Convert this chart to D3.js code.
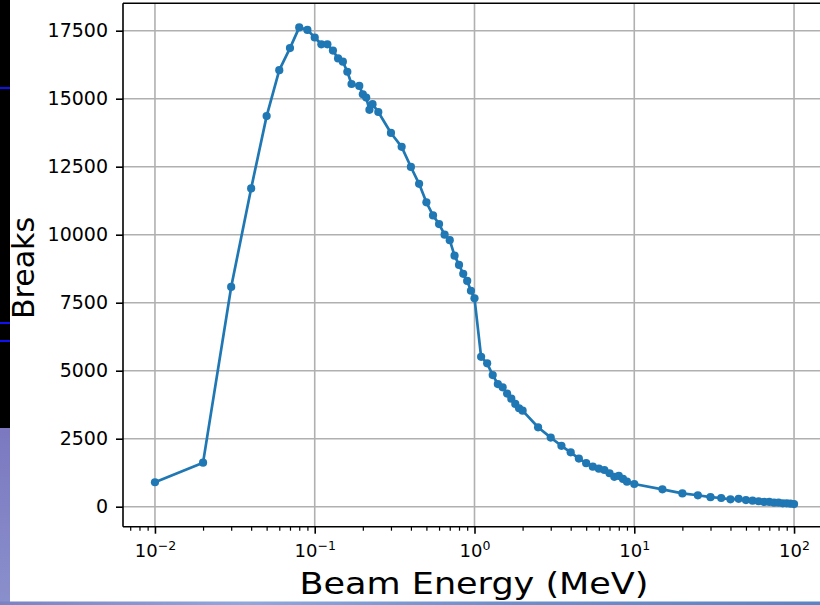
<!DOCTYPE html>
<html>
<head>
<meta charset="utf-8">
<script src="https://cdn.jsdelivr.net/npm/d3@7"></script>
<style>
  html, body { margin: 0; padding: 0; background: #fff; }
  svg { display: block; font-family: "DejaVu Sans", sans-serif; }
</style>
</head>
<body>
<svg id="graph" width="820" height="605"></svg>
<script>
// beam energy (MeV) and number of breaks
const energy = [0.01, 0.02, 0.03, 0.04, 0.05, 0.06, 0.07, 0.08, 0.09, 0.1,
  0.11, 0.12, 0.13, 0.14, 0.15, 0.16, 0.17, 0.19, 0.2, 0.21, 0.22, 0.23, 0.25,
  0.3, 0.35, 0.4, 0.45, 0.5, 0.55, 0.6, 0.65, 0.7, 0.75, 0.8, 0.85, 0.9, 0.95, 1.0,
  1.1, 1.2, 1.3, 1.4, 1.5, 1.6, 1.7, 1.8, 1.9, 2.0, 2.5, 3, 3.5, 4, 4.5, 5, 5.5,
  6, 6.5, 7, 7.5, 8, 8.5, 9, 10, 15, 20, 25, 30, 35, 40, 45, 50, 55, 60, 65,
  70, 75, 80, 85, 90, 95, 100];
const breaks = [900, 1620, 8080, 11700, 14360, 16050, 16860, 17620, 17530, 17250,
  17000, 17000, 16770, 16480, 16360, 15990, 15540, 15470, 15160, 15040, 14590, 14800, 14510,
  13740, 13230, 12490, 11870, 11190, 10710, 10390, 10000, 9800, 9230, 8890, 8560, 8300, 7940, 7660,
  5510, 5270, 4840, 4510, 4390, 4160, 3970, 3780, 3620, 3530, 2920, 2540, 2240, 2000, 1770, 1600, 1470,
  1400, 1350, 1230, 1100, 1130, 1020, 920, 835, 640, 490, 420, 350, 320, 270, 290, 245, 220, 200, 175,
  175, 150, 150, 125, 125, 110, 95];

const yTicks = [0, 2500, 5000, 7500, 10000, 12500, 15000, 17500];
const xTicks = [1e-2, 1e-1, 1e0, 1e1, 1e2];
const xExp = ["\u22122", "\u22121", "0", "1", "2"];

const svg = d3.select('#graph');
const padLeft = 123, padRight = 826, padTop = 3.3, padBottom = 526.7;

const xScale = d3.scaleLog().domain([Math.pow(10, -2.2), Math.pow(10, 2.2)]).range([padLeft, padRight]);
const yScale = d3.scaleLinear().domain([-735, 18507]).range([padBottom, padTop]);

// side decorations from the screenshot
const defs = svg.append('defs');
const g1 = defs.append('linearGradient').attr('id', 'sideGrad').attr('x1', 0).attr('y1', 0).attr('x2', 0).attr('y2', 1);
g1.append('stop').attr('offset', '0%').attr('stop-color', '#7b78c0');
g1.append('stop').attr('offset', '100%').attr('stop-color', '#8a90cc');
const g2 = defs.append('linearGradient').attr('id', 'bottomGrad');
g2.append('stop').attr('offset', '0%').attr('stop-color', '#7a82c4');
g2.append('stop').attr('offset', '30%').attr('stop-color', '#8ea8de');
g2.append('stop').attr('offset', '60%').attr('stop-color', '#6e90cc');
g2.append('stop').attr('offset', '100%').attr('stop-color', '#5b84c4');

svg.append('rect').attr('x', 0).attr('y', 0).attr('width', 10).attr('height', 428).attr('fill', '#000');
svg.append('rect').attr('x', 0).attr('y', 428).attr('width', 10).attr('height', 177).attr('fill', 'url(#sideGrad)');
[88, 323, 341].forEach(function(yy){
  svg.append('rect').attr('x', 0).attr('y', yy - 1).attr('width', 10).attr('height', 2).attr('fill', '#1010f0');
});
svg.append('rect').attr('x', 0).attr('y', 601.5).attr('width', 820).attr('height', 4).attr('fill', 'url(#bottomGrad)');

// grid
const grid = svg.append('g');
grid.selectAll('.gx').data(xTicks).join('line')
  .attr('x1', d => xScale(d)).attr('x2', d => xScale(d))
  .attr('y1', padTop).attr('y2', padBottom)
  .attr('stroke', '#b0b0b0').attr('stroke-width', 1.6);
grid.selectAll('.gy').data(yTicks).join('line')
  .attr('x1', padLeft).attr('x2', padRight)
  .attr('y1', d => yScale(d)).attr('y2', d => yScale(d))
  .attr('stroke', '#b0b0b0').attr('stroke-width', 1.6);

// line + markers
const line = d3.line().x(d => xScale(d[0])).y(d => yScale(d[1]));
const pts = energy.map((e, i) => [e, breaks[i]]);
svg.append('path').datum(pts).attr('d', line)
  .attr('fill', 'none').attr('stroke', '#1f77b4').attr('stroke-width', 2.7)
  .attr('stroke-linejoin', 'round');
svg.selectAll('.pt').data(pts).join('circle')
  .attr('cx', d => xScale(d[0])).attr('cy', d => yScale(d[1]))
  .attr('r', 4.1).attr('fill', '#1f77b4');

// axes
const yAxis = d3.axisLeft(yScale).tickValues(yTicks).tickSize(7).tickPadding(8).tickFormat(d3.format('d'));
const ya = svg.append('g').attr('transform', 'translate(' + padLeft + ',0)').call(yAxis);
ya.select('.domain').remove();
ya.selectAll('line').attr('stroke-width', 1.6);
ya.selectAll('text').attr('font-size', 19).attr('font-family', '"DejaVu Sans"').attr('fill', '#000');

let minor = [];
for (let k = -3; k <= 2; k++) for (let m = 2; m <= 9; m++) {
  const v = m * Math.pow(10, k);
  if (v > xScale.domain()[0] && v < xScale.domain()[1]) minor.push(v);
}
const xMinor = d3.axisBottom(xScale).tickValues(minor).tickSize(4).tickFormat('');
const xm = svg.append('g').attr('transform', 'translate(0,' + padBottom + ')').call(xMinor);
xm.select('.domain').remove();
xm.selectAll('line').attr('stroke-width', 1.2);

const xAxis = d3.axisBottom(xScale).tickValues(xTicks).tickSize(7).tickFormat('');
const xa = svg.append('g').attr('transform', 'translate(0,' + padBottom + ')').call(xAxis);
xa.select('.domain').remove();
xa.selectAll('line').attr('stroke-width', 1.6);
const xl = xa.selectAll('.tick').append('text')
  .attr('y', 30.8).attr('fill', '#000').attr('text-anchor', 'middle')
  .attr('font-family', '"DejaVu Sans"').attr('font-size', 18);
xl.append('tspan').text('10');
xl.append('tspan').attr('font-size', 12.5).attr('dy', -7.5).text((d, i) => xExp[i]);

// spines
svg.append('line').attr('x1', padLeft).attr('x2', padLeft).attr('y1', padTop).attr('y2', padBottom).attr('stroke', '#000').attr('stroke-width', 1.6);
svg.append('line').attr('x1', padLeft).attr('x2', padRight).attr('y1', padBottom).attr('y2', padBottom).attr('stroke', '#000').attr('stroke-width', 1.6);
svg.append('line').attr('x1', padLeft).attr('x2', padRight).attr('y1', padTop).attr('y2', padTop).attr('stroke', '#000').attr('stroke-width', 1.6);

// labels
svg.append('text').attr('x', 474).attr('y', 594).attr('text-anchor', 'middle')
  .attr('font-size', 31).attr('textLength', 349).attr('lengthAdjust', 'spacingAndGlyphs')
  .text('Beam Energy (MeV)');
svg.append('text').attr('transform', 'translate(34,268) rotate(-90)').attr('text-anchor', 'middle')
  .attr('font-size', 30).text('Breaks');
</script>
</body>
</html>
